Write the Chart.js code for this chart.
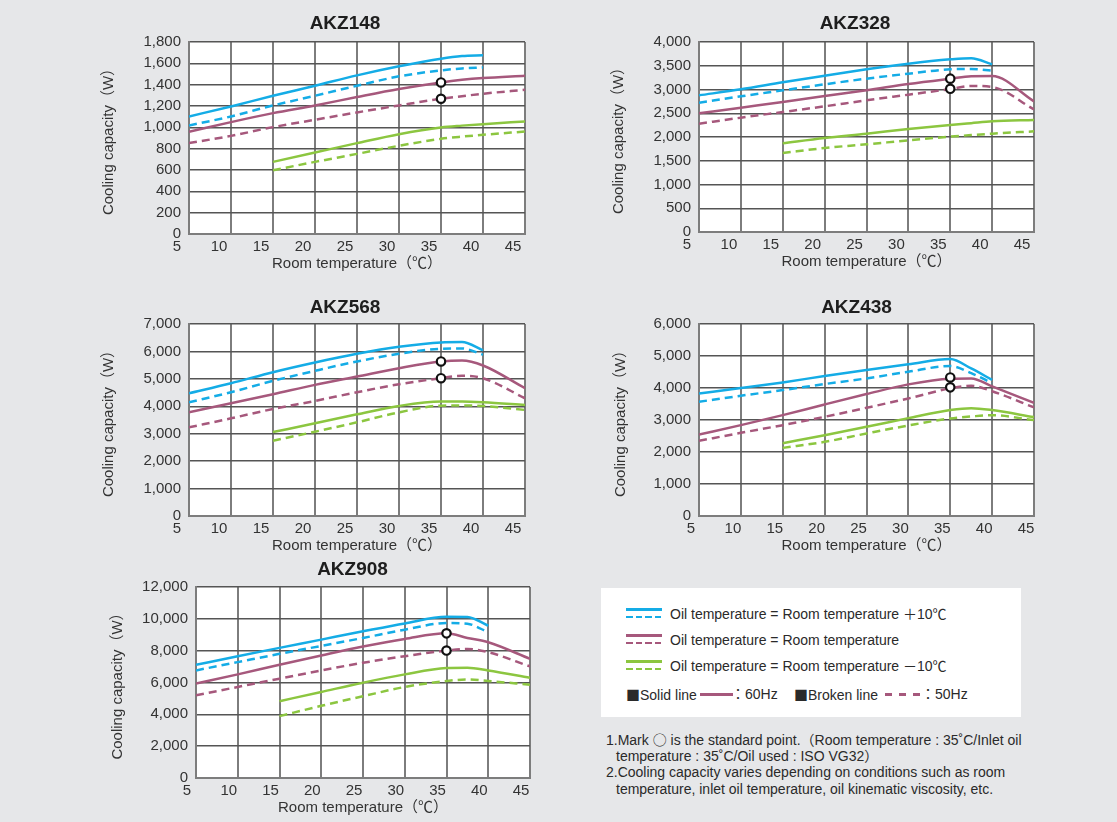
<!DOCTYPE html>
<html>
<head>
<meta charset="utf-8">
<title>AKZ cooling capacity</title>
<script src="https://cdn.jsdelivr.net/npm/chart.js@4.4.1/dist/chart.umd.min.js"></script>
<style>
html,body{margin:0;padding:0;}
body{width:1117px;height:822px;background:#e6e7e9;position:relative;overflow:hidden;font-family:"Liberation Sans",Arial,"Noto Sans CJK JP",sans-serif;color:#2a2a2a;}
canvas{position:absolute;}
#legendBox{position:absolute;left:601px;top:588px;width:420px;height:129px;background:#fff;}
.lg{position:absolute;font-size:14px;line-height:16px;white-space:nowrap;color:#2a2a2a;}
.sw{position:absolute;height:2.5px;}
.note{position:absolute;font-size:14px;line-height:16px;white-space:nowrap;color:#2a2a2a;}
.cjk{font-family:"Noto Sans CJK JP","Noto Sans CJK SC",sans-serif;}
</style>
</head>
<body>
<canvas id="c148"></canvas>
<canvas id="c328"></canvas>
<canvas id="c568"></canvas>
<canvas id="c438"></canvas>
<canvas id="c908"></canvas>

<div id="legendBox"></div>
<div id="legendItems"></div>

<div class="note" style="left:606px;top:731px;">1.Mark <span class="cjk">○</span> is the standard point.（Room temperature : 35˚C/Inlet oil</div>
<div class="note" style="left:616px;top:748px;">temperature : 35˚C/Oil used : ISO VG32）</div>
<div class="note" style="left:606px;top:764px;">2.Cooling capacity varies depending on conditions such as room</div>
<div class="note" style="left:616px;top:781px;">temperature, inlet oil temperature, oil kinematic viscosity, etc.</div>

<script>
// ---------------- DATA ----------------
const temps = [5, 10, 15, 20, 25, 30, 35, 37.5, 40, 45];   // room temperature (°C)
const xTickLabels = ['5', '10', '15', '20', '25', '30', '35', '40', '45'];
const standardTemp = 35;

const legendLabels = [
  'Oil temperature = Room temperature ＋10℃',
  'Oil temperature = Room temperature',
  'Oil temperature = Room temperature －10℃'
];

// AKZ148
const akz148Plus10Hz60 = [1102, 1196, 1296, 1390, 1487, 1572, 1644, 1668, 1675, null];
const akz148Plus10Hz50 = [1018, 1102, 1205, 1296, 1390, 1478, 1534, 1552, 1562, null];
const akz148SameHz60   = [958, 1049, 1133, 1205, 1284, 1359, 1421, 1445, 1462, 1484];
const akz148SameHz50   = [852, 920, 1002, 1071, 1140, 1205, 1268, 1292, 1315, 1352];
const akz148Minus10Hz60 = [null, null, 676, 764, 852, 936, 999, 1016, 1030, 1055];
const akz148Minus10Hz50 = [null, null, 598, 676, 751, 827, 892, 913, 930, 961];
const akz148Std = [1421, 1268];

// AKZ328
const akz328Plus10Hz60 = [2877, 3004, 3151, 3291, 3425, 3544, 3635, 3660, 3530, null];
const akz328Plus10Hz50 = [2723, 2856, 2982, 3109, 3228, 3333, 3425, 3432, 3396, null];
const akz328SameHz60   = [2498, 2618, 2737, 2863, 2982, 3116, 3228, 3280, 3284, 2751];
const akz328SameHz50   = [2281, 2407, 2526, 2646, 2772, 2891, 3010, 3075, 3053, 2582];
const akz328Minus10Hz60 = [null, null, 1867, 1979, 2070, 2168, 2253, 2292, 2330, 2358];
const akz328Minus10Hz50 = [null, null, 1663, 1768, 1846, 1930, 2007, 2040, 2070, 2119];
const akz328Std = [3228, 3015];

// AKZ568
const akz568Plus10Hz60 = [4476, 4841, 5244, 5598, 5915, 6171, 6329, 6340, 6040, null];
const akz568Plus10Hz50 = [4146, 4512, 4927, 5293, 5634, 5915, 6098, 6110, 5878, null];
const akz568SameHz60   = [3780, 4110, 4439, 4780, 5085, 5390, 5634, 5670, 5488, 4659];
const akz568SameHz50   = [3232, 3561, 3902, 4195, 4512, 4805, 5024, 5110, 5024, 4293];
const akz568Minus10Hz60 = [null, null, 3061, 3378, 3707, 4012, 4171, 4171, 4146, 4049];
const akz568Minus10Hz50 = [null, null, 2744, 3073, 3415, 3780, 4024, 4030, 4012, 3866];
const akz568Std = [5634, 5024];

// AKZ438
const akz438Plus10Hz60 = [3831, 3998, 4175, 4374, 4562, 4739, 4906, 4610, 4254, null];
const akz438Plus10Hz50 = [3570, 3758, 3935, 4123, 4300, 4509, 4687, 4464, 4150, null];
const akz438SameHz60   = [2547, 2839, 3152, 3486, 3810, 4113, 4290, 4300, 4050, 3539];
const akz438SameHz50   = [2349, 2599, 2839, 3100, 3382, 3674, 3990, 4070, 3900, 3392];
const akz438Minus10Hz60 = [null, null, 2276, 2526, 2787, 3058, 3309, 3370, 3310, 3090];
const akz438Minus10Hz50 = [null, null, 2129, 2317, 2578, 2829, 3048, 3110, 3150, 2996];
const akz438Std = [4330, 4020];

// AKZ908
const akz908Plus10Hz60 = [7113, 7654, 8174, 8694, 9214, 9713, 10129, 10120, 9567, null];
const akz908Plus10Hz50 = [6760, 7280, 7800, 8299, 8798, 9318, 9734, 9690, 9151, null];
const akz908SameHz60   = [5928, 6510, 7113, 7696, 8257, 8735, 9089, 8800, 8527, 7488];
const akz908SameHz50   = [5200, 5720, 6240, 6760, 7238, 7654, 8008, 8112, 7904, 7009];
const akz908Minus10Hz60 = [null, null, 4825, 5408, 5990, 6510, 6905, 6930, 6760, 6302];
const akz908Minus10Hz50 = [null, null, 3889, 4534, 5137, 5720, 6094, 6190, 6094, 5865];
const akz908Std = [9089, 8008];

// ---------------- STYLE ----------------
const colorPlus10 = '#14ace6';
const colorSame = '#a6587c';
const colorMinus10 = '#8cc640';
const FONT = '"Liberation Sans", Arial, "Noto Sans CJK JP", sans-serif';
Chart.defaults.font.family = FONT;
Chart.defaults.color = '#2a2a2a';

const plotBg = {
  id: 'plotBg',
  beforeDraw(chart) {
    const { ctx, chartArea: a } = chart;
    ctx.save();
    ctx.fillStyle = '#ffffff';
    ctx.fillRect(a.left, a.top, a.right - a.left, a.bottom - a.top);
    ctx.restore();
  }
};

function lineDs(label, values, color, dashed) {
  return {
    label: label,
    data: values.map((v, i) => ({ x: temps[i], y: v })),
    borderColor: color,
    backgroundColor: color,
    borderWidth: 2.5,
    borderDash: dashed ? [8, 5] : [],
    pointRadius: 0,
    tension: 0.4,
    cubicInterpolationMode: 'monotone',
    fill: false,
    order: 1
  };
}

function stdDs(values) {
  return {
    label: 'Standard point',
    data: values.map(v => ({ x: standardTemp, y: v })),
    showLine: false,
    pointRadius: 4.2,
    pointBorderWidth: 2.2,
    pointBackgroundColor: '#ffffff',
    pointBorderColor: '#111111',
    order: -1
  };
}

function makePanel(p) {
  const cv = document.getElementById(p.id);
  cv.width = p.width; cv.height = p.height;
  cv.style.left = p.left + 'px'; cv.style.top = p.top + 'px';
  cv.style.width = p.width + 'px'; cv.style.height = p.height + 'px';
  const s = p.series;
  new Chart(cv, {
    type: 'line',
    data: {
      datasets: [
        stdDs(p.std),
        lineDs(legendLabels[0] + ' 60Hz', s[0], colorPlus10, false),
        lineDs(legendLabels[0] + ' 50Hz', s[1], colorPlus10, true),
        lineDs(legendLabels[1] + ' 60Hz', s[2], colorSame, false),
        lineDs(legendLabels[1] + ' 50Hz', s[3], colorSame, true),
        lineDs(legendLabels[2] + ' 60Hz', s[4], colorMinus10, false),
        lineDs(legendLabels[2] + ' 50Hz', s[5], colorMinus10, true)
      ]
    },
    options: {
      responsive: false,
      animation: false,
      devicePixelRatio: 1,
      locale: 'en-US',
      layout: { padding: 0 },
      plugins: {
        legend: { display: false },
        tooltip: { enabled: false },
        title: {
          display: true,
          text: p.title,
          color: '#1e1e1e',
          font: { size: 19, weight: 'bold', family: FONT, lineHeight: 1.2 },
          padding: { top: p.tTop, bottom: 34 - 22.8 - p.tTop }
        }
      },
      scales: {
        x: {
          type: 'linear',
          position: 'bottom',
          min: 5, max: 45,
          afterBuildTicks: sc => { sc.ticks = xTickLabels.map(t => ({ value: Number(t) })); },
          ticks: {
            callback: (v, i) => xTickLabels[i],
            font: { size: 15 },
            color: '#333',
            padding: 4,
            labelOffset: p.lblOff,
            maxRotation: 0,
            autoSkip: false
          },
          grid: { color: '#7d7d7d', lineWidth: 2, drawTicks: false },
          border: { color: '#7d7d7d', width: 2 },
          title: {
            display: true,
            text: 'Room temperature（℃）',
            font: { size: 15 },
            color: '#333',
            padding: { top: 0, bottom: 7 }
          },
          afterFit: sc => { sc.height = 46; }
        },
        y: {
          type: 'linear',
          position: 'left',
          min: 0, max: p.yMax,
          ticks: { stepSize: p.yStep, font: { size: 15 }, color: '#333', padding: 8 },
          grid: { color: '#555555', lineWidth: 1.5, drawTicks: false },
          border: { color: '#7d7d7d', width: 2 },
          title: {
            display: true,
            text: 'Cooling capacity（W）',
            font: { size: 15 },
            color: '#333',
            padding: { top: p.yTitlePad, bottom: 0 }
          },
          afterFit: sc => { sc.width = p.yW; }
        },
        spacer: {
          type: 'linear',
          position: 'right',
          display: true,
          grid: { display: false, drawTicks: false },
          border: { display: false },
          ticks: { display: false },
          afterFit: sc => { sc.width = p.padR; }
        }
      }
    },
    plugins: [plotBg]
  });
}

const panels = [
  { id: 'c148', title: 'AKZ148', left: 95, top: 8, width: 500, height: 272, yW: 94, padR: 70, yTitlePad: 5, tTop: 4.6, yMax: 1800, yStep: 200, lblOff: -12,
    series: [akz148Plus10Hz60, akz148Plus10Hz50, akz148SameHz60, akz148SameHz50, akz148Minus10Hz60, akz148Minus10Hz50], std: akz148Std },
  { id: 'c328', title: 'AKZ328', left: 605, top: 8, width: 500, height: 270, yW: 94, padR: 71, yTitlePad: 5, tTop: 4.6, yMax: 4000, yStep: 500, lblOff: -12,
    series: [akz328Plus10Hz60, akz328Plus10Hz50, akz328SameHz60, akz328SameHz50, akz328Minus10Hz60, akz328Minus10Hz50], std: akz328Std },
  { id: 'c568', title: 'AKZ568', left: 95, top: 290, width: 500, height: 272, yW: 94, padR: 70, yTitlePad: 5, tTop: 6.3, yMax: 7000, yStep: 1000, lblOff: -12,
    series: [akz568Plus10Hz60, akz568Plus10Hz50, akz568SameHz60, akz568SameHz50, akz568Minus10Hz60, akz568Minus10Hz50], std: akz568Std },
  { id: 'c438', title: 'AKZ438', left: 606, top: 290, width: 501, height: 272, yW: 93, padR: 73, yTitlePad: 5.7, tTop: 6.3, yMax: 6000, yStep: 1000, lblOff: -8,
    series: [akz438Plus10Hz60, akz438Plus10Hz50, akz438SameHz60, akz438SameHz50, akz438Minus10Hz60, akz438Minus10Hz50], std: akz438Std },
  { id: 'c908', title: 'AKZ908', left: 104, top: 553, width: 497, height: 271, yW: 92, padR: 71, yTitlePad: 5.3, tTop: 5.6, yMax: 12000, yStep: 2000, lblOff: -9,
    series: [akz908Plus10Hz60, akz908Plus10Hz50, akz908SameHz60, akz908SameHz50, akz908Minus10Hz60, akz908Minus10Hz50], std: akz908Std }
];
panels.forEach(makePanel);

// ---------------- LEGEND (HTML) ----------------
(function buildLegend() {
  const host = document.getElementById('legendItems');
  const colors = [colorPlus10, colorSame, colorMinus10];
  const rowCenters = [614, 640, 666];
  let html = '';
  legendLabels.forEach((lab, i) => {
    const c = colors[i], y = rowCenters[i];
    html += `<div class="sw" style="left:626px;top:${y - 6}px;width:36px;background:${c};"></div>`;
    html += `<div class="sw" style="left:626px;top:${y + 1.5}px;width:36px;background:repeating-linear-gradient(90deg,${c} 0 6.5px,transparent 6.5px 9.5px);"></div>`;
    html += `<div class="lg" style="left:670px;top:${y - 8}px;">${lab}</div>`;
  });
  const y4 = 694;
  html += `<div class="lg" style="left:626px;top:${y4 - 8}px;"><span class="cjk">■</span>Solid line</div>`;
  html += `<div class="sw" style="left:700px;top:${y4 - 1}px;width:33px;background:${colorSame};"></div>`;
  html += `<div class="lg" style="left:731px;top:${y4 - 8}px;">：60Hz</div>`;
  html += `<div class="lg" style="left:794px;top:${y4 - 8}px;"><span class="cjk">■</span>Broken line</div>`;
  html += `<div class="sw" style="left:885px;top:${y4 - 1}px;width:35px;background:repeating-linear-gradient(90deg,${colorSame} 0 7px,transparent 7px 14px);"></div>`;
  html += `<div class="lg" style="left:921px;top:${y4 - 8}px;">：50Hz</div>`;
  host.innerHTML = html;
})();
</script>
</body>
</html>
